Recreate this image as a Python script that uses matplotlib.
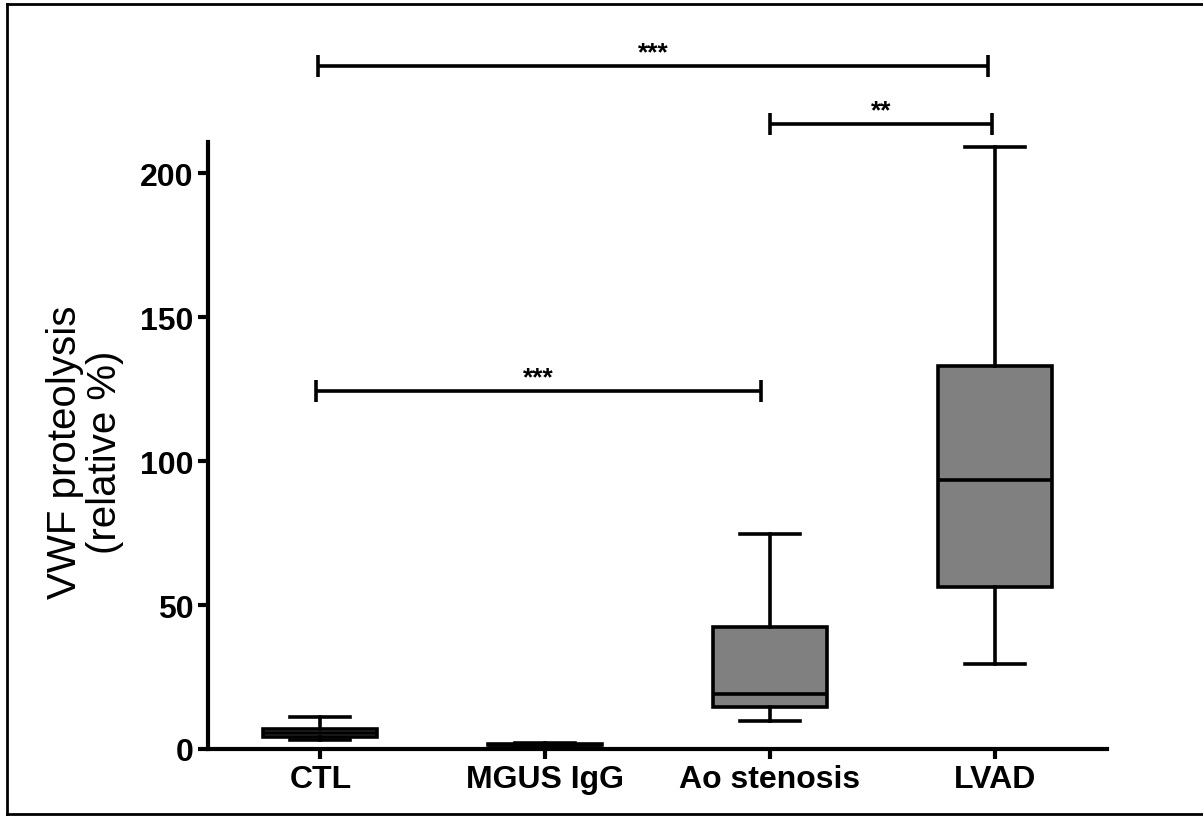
import numpy as np
import matplotlib
matplotlib.use("Agg")
import matplotlib.pyplot as plt
from matplotlib.lines import Line2D

plt.rcParams["font.family"] = ["Liberation Sans", "DejaVu Sans"]

# ============================================================
# Datos
# ============================================================
grupos = ["CTL", "MGUS IgG", "Ao stenosis", "LVAD"]
bigote_min = [3.2, 1.0, 9.7, 29.5]
q1 = [4.3, 1.3, 14.6, 56.2]
mediana = [5.5, 1.5, 19.1, 93.4]
q3 = [7.0, 1.8, 42.4, 133.0]
bigote_max = [11.1, 2.2, 74.7, 209.0]

# comparaciones: extremo izq, extremo der, altura, texto
comp_izq = [0.99, 3.0, 0.98]
comp_der = [3.97, 3.99, 2.96]
comp_y = [237.2, 217.0, 124.3]
comp_txt = ["***", "**", "***"]

# ============================================================
# Figura
# ============================================================
fig = plt.figure(figsize=(12.03, 8.2), dpi=100)
ax = fig.add_axes([208 / 1203, 70 / 820, (1107 - 208) / 1203, (750 - 143) / 820])

stats = []
for i in range(len(grupos)):
    stats.append({
        "whislo": bigote_min[i], "q1": q1[i], "med": mediana[i],
        "q3": q3[i], "whishi": bigote_max[i], "fliers": [], "label": grupos[i],
    })

lw = 2.6
ax.bxp(
    stats, positions=np.arange(1, len(grupos) + 1), widths=0.507, capwidths=0.267,
    patch_artist=True, showfliers=False,
    boxprops=dict(facecolor="#808080", edgecolor="black", linewidth=lw),
    medianprops=dict(color="black", linewidth=lw),
    whiskerprops=dict(color="black", linewidth=lw),
    capprops=dict(color="black", linewidth=lw),
)

ax.set_xlim(0.5, 4.5)
ax.set_ylim(0, 210.8)
ax.set_yticks([0, 50, 100, 150, 200])
ax.set_xticks(np.arange(1, len(grupos) + 1))
ax.set_xticklabels(grupos)

for lado in ["top", "right"]:
    ax.spines[lado].set_visible(False)
for lado in ["left", "bottom"]:
    ax.spines[lado].set_linewidth(3.0)

ax.tick_params(axis="both", direction="out", length=7.5, width=3.0,
               labelsize=23, pad=3)
for etiqueta in ax.get_xticklabels() + ax.get_yticklabels():
    etiqueta.set_fontweight("bold")

# Barras de significancia
alto_tick = 3.8
for x0, x1, y, txt in zip(comp_izq, comp_der, comp_y, comp_txt):
    ax.plot([x0, x1], [y, y], color="black", linewidth=lw, clip_on=False,
            solid_capstyle="butt")
    for xx in (x0, x1):
        ax.plot([xx, xx], [y - alto_tick, y + alto_tick], color="black",
                linewidth=lw, clip_on=False, solid_capstyle="butt")
    ax.annotate(txt, xy=((x0 + x1) / 2, y), xytext=(0, 5),
                textcoords="offset points", ha="center", va="baseline",
                fontsize=19, fontweight="bold", annotation_clip=False)

fig.text(85 / 1203, 1 - 452 / 820, "VWF proteolysis\n(relative %)",
         rotation=90, ha="center", va="center", multialignment="center",
         fontsize=29, linespacing=1.1)

# Marco de la figura
borde = dict(color="black", linewidth=2, transform=fig.transFigure)
fig.add_artist(Line2D([7 / 1203, 7 / 1203], [1 - 5 / 820, 1 - 815 / 820], **borde))
fig.add_artist(Line2D([7 / 1203, 1], [1 - 5 / 820, 1 - 5 / 820], **borde))
fig.add_artist(Line2D([7 / 1203, 1], [1 - 815 / 820, 1 - 815 / 820], **borde))

fig.savefig("out.png", dpi=100)
